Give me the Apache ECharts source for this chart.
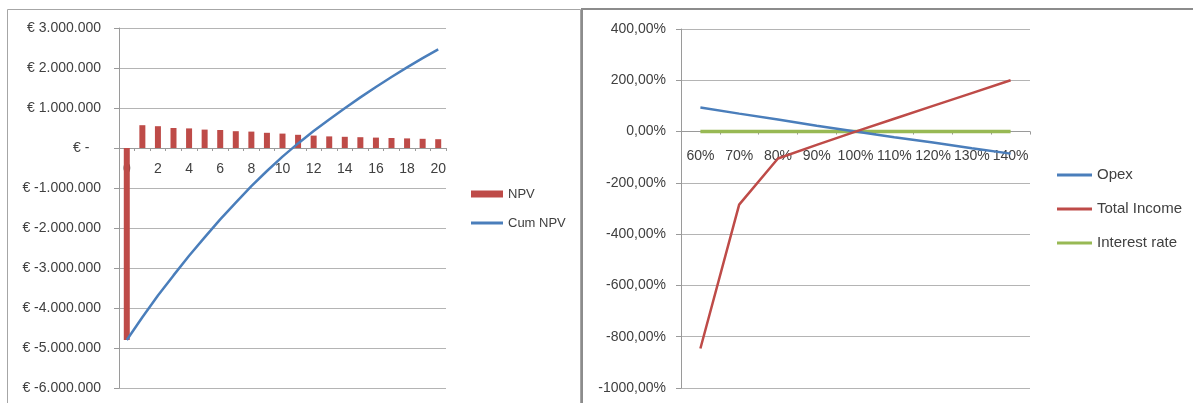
<!DOCTYPE html>
<html>
<head>
<meta charset="utf-8">
<title>NPV and sensitivity</title>
<script src="https://cdn.jsdelivr.net/npm/echarts@6/dist/echarts.min.js"></script>
<style>
  html, body { margin: 0; padding: 0; background: #ffffff; }
  #chart { width: 1193px; height: 403px; }
</style>
</head>
<body>
<div id="chart"></div>
<script>
// Left panel: yearly NPV and cumulative NPV (EUR)
const years = ['0','1','2','3','4','5','6','7','8','9','10','11','12','13','14','15','16','17','18','19','20'];
const npv = [-4800000, 570000, 545000, 500000, 490000, 460000, 450000, 420000, 410000, 380000, 360000,
             330000, 310000, 290000, 280000, 270000, 260000, 250000, 240000, 230000, 220000];
const cumNpv = [-4800000, -4230000, -3685000, -3185000, -2695000, -2235000, -1785000, -1365000, -955000, -575000, -215000,
                115000, 425000, 715000, 995000, 1265000, 1525000, 1775000, 2015000, 2245000, 2465000];

// Right panel: sensitivity of the result to each driver (%)
const factors = ['60%','70%','80%','90%','100%','110%','120%','130%','140%'];
const opex = [94, 70, 47, 23, 0, -22, -43, -65, -86];
const totalIncome = [-846, -285, -105, -52, 0, 50, 100, 150, 200];
const interestRate = [0, 0, 0, 0, 0, 0, 0, 0, 0];

const FONT = '"Liberation Sans", Arial, sans-serif';
const TXT = '#404040';
const GRID = '#b4b4b4';
const AXIS = '#9a9a9a';
const RED = '#be4b48';
const BLUE = '#4a7ebb';
const GREEN = '#98b954';

// plot areas
const G1 = { left: 119, top: 28, width: 327, height: 360 };
const G2 = { left: 681, top: 29, width: 349, height: 359 };
const Y1 = { min: -6000000, max: 3000000 };
const Y2 = { min: -1000, max: 400 };

// distance from the bottom of a plot area up to its zero line
function zeroOffset(g, y) {
  return -g.height * (0 - y.min) / (y.max - y.min);
}

function euro(v) {
  if (v === 0) return '€ -   ';
  const s = String(Math.abs(v)).replace(/\B(?=(\d{3})+(?!\d))/g, '.');
  return '€ ' + (v < 0 ? '-' : '') + s;
}

const chart = echarts.init(document.getElementById('chart'), null, { renderer: 'canvas' });

const legendText = size => ({ color: TXT, fontSize: size, fontFamily: FONT, lineHeight: size + 3 });

chart.setOption({
  backgroundColor: '#ffffff',
  animation: false,
  textStyle: { fontFamily: FONT },
  graphic: [
    { type: 'rect', shape: { x: 7.5, y: 9.5, width: 573, height: 400 },
      style: { fill: 'none', stroke: '#a6a6a6', lineWidth: 1 }, z: 100 },
    { type: 'rect', shape: { x: 582, y: 9, width: 620, height: 400 },
      style: { fill: 'none', stroke: '#8c8c8c', lineWidth: 2 }, z: 100 }
  ],
  grid: [G1, G2],
  legend: [
    {
      orient: 'vertical', left: 471, top: 186, padding: 0, itemWidth: 32, itemHeight: 7,
      icon: 'rect', textStyle: legendText(13), data: ['NPV']
    },
    {
      orient: 'vertical', left: 471, top: 215, padding: 0, itemWidth: 32, itemHeight: 3,
      icon: 'rect', textStyle: legendText(13), data: ['Cum NPV']
    },
    {
      orient: 'vertical', left: 1057, top: 166, padding: 0, itemWidth: 35, itemHeight: 3, itemGap: 16,
      icon: 'rect', textStyle: legendText(15), data: ['Opex', 'Total Income', 'Interest rate']
    }
  ],
  xAxis: [
    {
      type: 'category', gridIndex: 0, data: years, boundaryGap: true,
      position: 'bottom', offset: zeroOffset(G1, Y1),
      axisLine: { onZero: false, lineStyle: { color: AXIS, width: 1 } },
      axisTick: { show: true, length: 3, interval: 0, lineStyle: { color: AXIS } },
      axisLabel: { interval: 1, margin: 14, color: TXT, fontSize: 14, fontFamily: FONT },
      splitLine: { show: false }
    },
    {
      type: 'category', gridIndex: 1, data: factors, boundaryGap: true,
      position: 'bottom', offset: zeroOffset(G2, Y2),
      axisLine: { onZero: false, lineStyle: { color: AXIS, width: 1 } },
      axisTick: { show: true, length: 3, interval: 0, lineStyle: { color: AXIS } },
      axisLabel: { interval: 0, margin: 18, color: TXT, fontSize: 14, fontFamily: FONT, hideOverlap: false },
      splitLine: { show: false }
    }
  ],
  yAxis: [
    {
      type: 'value', gridIndex: 0, min: Y1.min, max: Y1.max, interval: 1000000,
      axisLine: { show: true, lineStyle: { color: AXIS } },
      axisTick: { show: true, length: 5, lineStyle: { color: AXIS } },
      axisLabel: { formatter: euro, margin: 18, color: TXT, fontSize: 14, fontFamily: FONT },
      splitLine: { lineStyle: { color: GRID, width: 1 } }
    },
    {
      type: 'value', gridIndex: 1, min: Y2.min, max: Y2.max, interval: 200,
      axisLine: { show: true, lineStyle: { color: AXIS } },
      axisTick: { show: true, length: 5, lineStyle: { color: AXIS } },
      axisLabel: { formatter: v => v + ',00%', margin: 15, color: TXT, fontSize: 14, fontFamily: FONT },
      splitLine: { lineStyle: { color: GRID, width: 1 } }
    }
  ],
  series: [
    {
      name: 'NPV', type: 'bar', xAxisIndex: 0, yAxisIndex: 0, data: npv,
      barWidth: 6, itemStyle: { color: RED }
    },
    {
      name: 'Cum NPV', type: 'line', xAxisIndex: 0, yAxisIndex: 0, data: cumNpv,
      symbol: 'none', lineStyle: { color: BLUE, width: 2.5 }, itemStyle: { color: BLUE }
    },
    {
      name: 'Opex', type: 'line', xAxisIndex: 1, yAxisIndex: 1, data: opex,
      symbol: 'none', lineStyle: { color: BLUE, width: 2.5 }, itemStyle: { color: BLUE }
    },
    {
      name: 'Total Income', type: 'line', xAxisIndex: 1, yAxisIndex: 1, data: totalIncome,
      symbol: 'none', lineStyle: { color: RED, width: 2.5 }, itemStyle: { color: RED }
    },
    {
      name: 'Interest rate', type: 'line', xAxisIndex: 1, yAxisIndex: 1, data: interestRate,
      symbol: 'none', lineStyle: { color: GREEN, width: 3.5 }, itemStyle: { color: GREEN }, z: 1
    }
  ]
});
</script>
</body>
</html>
